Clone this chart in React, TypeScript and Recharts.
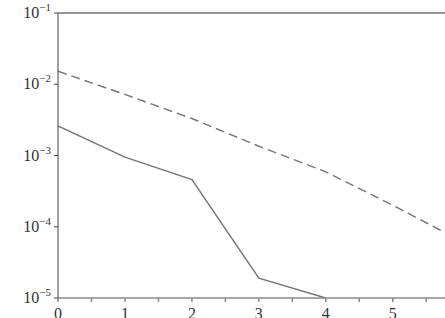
import { LineChart, Line, XAxis, YAxis, ReferenceLine } from 'recharts';

// x positions, values of the two curves and tick labels
const xValues = [0, 1, 2, 3, 4, 5, 5.78];
const solidValues = [2.6e-3, 9.5e-4, 4.6e-4, 1.9e-5, 1e-5];
const dashedValues = [0.0152, 0.0072, 0.0033, 0.00135, 5.9e-4, 2.0e-4, 8.3e-5];
const xTicks = [0, 0.5, 1, 1.5, 2, 2.5, 3, 3.5, 4, 4.5, 5, 5.5];
const yTicks = [1e-5, 1e-4, 1e-3, 1e-2, 1e-1];

const data = xValues.map((x, i) => ({
  x,
  solid: solidValues[i],
  dashed: dashedValues[i],
}));

const FONT = 'Liberation Serif, Times New Roman, Times, serif';

const YTick = ({ x, y, payload }: any) => {
  const exp = Math.round(Math.log10(payload.value));
  return (
    <text x={x - 1} y={y + 5} textAnchor="end" fontFamily={FONT} fontSize={16} fill="#333">
      <tspan>10</tspan>
      <tspan dy={-7} fontSize={11}>{`−${Math.abs(exp)}`}</tspan>
    </text>
  );
};

const XTick = ({ x, y, payload }: any) => {
  if (!Number.isInteger(payload.value)) return null;
  return (
    <text x={x} y={y + 17} textAnchor="middle" fontFamily={FONT} fontSize={16} fill="#333">
      {payload.value}
    </text>
  );
};

export default function App() {
  return (
    <div style={{ position: 'absolute', left: 0, top: 0, background: '#fff' }}>
      <LineChart width={445} height={318} data={data} margin={{ top: 13, right: 0, left: 0, bottom: 0 }}>
        <XAxis
          dataKey="x"
          type="number"
          domain={[0, 5.78]}
          ticks={xTicks}
          allowDataOverflow
          height={20}
          tickSize={4}
          tickMargin={0}
          stroke="#888"
          strokeWidth={1.5}
          tick={<XTick />}
          interval={0}
        />
        <YAxis
          scale="log"
          domain={[1e-5, 0.1]}
          ticks={yTicks}
          allowDataOverflow
          width={58}
          tickSize={4}
          tickMargin={2}
          stroke="#444"
          tick={<YTick />}
          interval={0}
        />
        <ReferenceLine y={0.1} stroke="#999" strokeWidth={2} />
        <Line
          dataKey="solid"
          type="linear"
          stroke="#777"
          strokeWidth={1.5}
          dot={false}
          isAnimationActive={false}
        />
        <Line
          dataKey="dashed"
          type="linear"
          stroke="#777"
          strokeWidth={1.5}
          strokeDasharray="9 5"
          dot={false}
          isAnimationActive={false}
        />
      </LineChart>
    </div>
  );
}
